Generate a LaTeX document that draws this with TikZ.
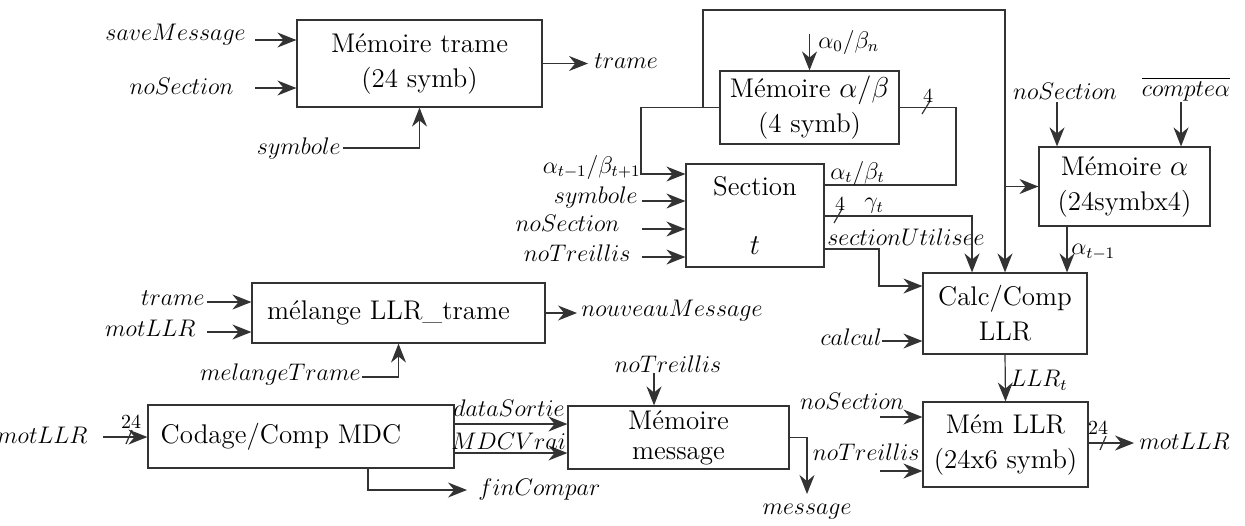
\documentclass[tikz,border=0pt]{standalone}
\usepackage{amsmath,amssymb}
\usepackage{tikz}
\usetikzlibrary{arrows.meta,positioning}

\begin{document}
\begin{tikzpicture}[
  x=0.5pt, y=-0.5pt,
  block/.style={draw=black!80, line width=0.6pt, align=center, inner sep=2pt,
                font=\fontsize{13.5}{17.5}\selectfont},
  lbl/.style={font=\fontsize{11.5}{13}\selectfont, inner sep=1pt},
  busnum/.style={font=\fontsize{10}{11}\selectfont, inner sep=0pt},
  wire/.style={draw=black!80, line width=0.6pt},
  arrow/.style={wire, -{Stealth[length=9.5pt,width=7.5pt]}}
]
\useasboundingbox (0,0) rectangle (1245,525);

% Blocks
\node[block, minimum width=122.5pt, minimum height=43.5pt] (memtrame) at (419.5,63.5) {M\'emoire trame\\(24 symb)};
\node[block, minimum width=89.5pt, minimum height=36.5pt] (memab) at (809.5,107.5) {M\'emoire $\alpha/\beta$\\(4 symb)};
\node[block, minimum width=69pt, minimum height=51.5pt] (section) at (755,215.5) {Section\\[12pt]$t$};
\node[block, minimum width=85.5pt, minimum height=39.5pt] (memalpha) at (1124.5,186.5) {M\'emoire $\alpha$\\(24symbx4)};
\node[block, minimum width=82pt, minimum height=40.5pt] (calc) at (1005,313.5) {Calc/Comp\\LLR};
\node[block, minimum width=82.5pt, minimum height=42.5pt] (memllr) at (1005.5,444.5) {M\'em LLR\\(24x6 symb)};
\node[block, minimum width=146.5pt, minimum height=30pt] (melange) at (398.5,313) {m\'elange LLR\_trame\hspace{10pt}};
\node[block, minimum width=153pt, minimum height=31.5pt] (codage) at (301,436.5) {Codage/Comp MDC\hspace{20pt}};
\node[block, minimum width=110.5pt, minimum height=31.5pt, font=\fontsize{13.5}{15}\selectfont] (memmsg) at (678.5,437.5) {M\'emoire\\message};

% Memoire trame
\coordinate (saveIn) at (255,40);
\coordinate (nsecT) at (255,88);
\coordinate (symT) at (343,148);
\coordinate (trameOut) at (588,63.5);
\node[lbl, anchor=east] (saveLbl) at (248,35) {$saveMessage$};
\node[lbl, anchor=east] (nsecTLbl) at (236,86) {$noSection$};
\node[lbl, anchor=east] (symTLbl) at (symT) {$symbole$};
\node[lbl, anchor=west] (trameLbl) at (592,61) {$trame$};
\draw[arrow] (saveIn) -- (saveIn -| memtrame.west);
\draw[arrow] (nsecT) -- (nsecT -| memtrame.west);
\draw[arrow] (symT) -| (memtrame.south);
\draw[arrow] (memtrame.east) -- (trameOut);

% Memoire alpha/beta and its loops
\coordinate (a0In) at (809.5,34);
\coordinate (fbL) at (641,107.5);
\coordinate (tap) at (703,107.5);
\coordinate (topR) at (1005,10);
\coordinate (br) at (1005,186.5);
\node[lbl, anchor=west] (a0Lbl) at (816,42) {$\alpha_0/\beta_n$};
\draw[arrow] (a0In) -- (memab.north);
\draw[arrow] (memab.west) -- (fbL) |- (section.west |- 0,174);
\draw[arrow] (tap) |- (topR) -- (calc.north);
\draw[arrow] (br) -- (memalpha.west);
\draw[wire] (section.east |- 0,185) -| (956,107.5) -- (memab.east);
\draw[wire] (922,114) -- (930,101);
\node[busnum] (busab) at (928,96) {4};

% Section t
\coordinate (symS) at (642,201);
\coordinate (nsecS) at (642,229);
\coordinate (ntrS) at (642,257);
\node[lbl, anchor=east] (fbLbl) at (643,167) {$\alpha_{t-1}/\beta_{t+1}$};
\node[lbl, anchor=east] (symSLbl) at (640,197) {$symbole$};
\node[lbl, anchor=east] (nsecSLbl) at (622,223) {$noSection$};
\node[lbl, anchor=east] (ntrSLbl) at (633,253) {$noTreillis$};
\draw[arrow] (symS) -- (symS -| section.west);
\draw[arrow] (nsecS) -- (nsecS -| section.west);
\draw[arrow] (ntrS) -- (ntrS -| section.west);
\node[lbl, anchor=west] (atLbl) at (828,173) {$\alpha_t/\beta_t$};
\node[lbl, anchor=west] (gtLbl) at (862,206) {$\gamma_t$};
\node[lbl, anchor=west] (suLbl) at (825,237) {$sectionUtilisee$};
\draw[arrow] (section.east |- 0,216) -| (calc.north -| 972,0);
\draw[wire] (834,223) -- (842,209);
\node[busnum] (busg) at (840,204) {4};
\draw[arrow] (section.east |- 0,249) -| (879,286) -- (calc.west |- 0,286);

% Memoire alpha
\coordinate (nsecA) at (1057,102);
\coordinate (cptA) at (1181,102);
\node[lbl] (nsecALbl) at (1065,91) {$noSection$};
\node[lbl] (cptALbl) at (1186,89) {$\overline{compte\alpha}$};
\draw[arrow] (nsecA) -- (memalpha.north -| nsecA);
\draw[arrow] (cptA) -- (memalpha.north -| cptA);
\draw[arrow] (memalpha.south -| 1067,0) -- (calc.north -| 1067,0);
\node[lbl, anchor=west] (amLbl) at (1069,252) {$\alpha_{t-1}$};

% Calc/Comp LLR and Mem LLR
\coordinate (calcIn) at (882,341);
\node[lbl, anchor=east] (calcLbl) at (884,337) {$calcul$};
\draw[arrow] (calcIn) -- (calcIn -| calc.west);
\draw[arrow] (calc.south) -- (memllr.north);
\node[lbl, anchor=west] (llrLbl) at (1008,380) {$LLR_t$};
\coordinate (nsecL) at (880,417);
\coordinate (ntrL) at (880,471);
\coordinate (llrOut) at (1134,443);
\node[lbl] (nsecLLbl) at (852,401) {$noSection$};
\node[lbl, anchor=east] (ntrLLbl) at (922,452) {$noTreillis$};
\draw[arrow] (nsecL) -- (nsecL -| memllr.west);
\draw[arrow] (ntrL) -- (ntrL -| memllr.west);
\draw[arrow] (memllr.east |- llrOut) -- (llrOut);
\draw[wire] (1100,450) -- (1106,436);
\node[busnum] (busl) at (1098,428) {24};
\node[lbl, anchor=west] (mlOutLbl) at (1137,441) {$motLLR$};

% melange LLR_trame
\coordinate (trIn) at (207,302);
\coordinate (mlIn) at (207,332);
\coordinate (mtIn) at (362,377);
\coordinate (nmOut) at (577,313);
\node[lbl, anchor=east] (trLbl) at (207,298) {$trame$};
\node[lbl, anchor=east] (mlLbl) at (198,328) {$motLLR$};
\node[lbl, anchor=east] (mtLbl) at (363,374) {$melangeTrame$};
\node[lbl, anchor=west] (nmLbl) at (579,311) {$nouveauMessage$};
\draw[arrow] (trIn) -- (trIn -| melange.west);
\draw[arrow] (mlIn) -- (mlIn -| melange.west);
\draw[arrow] (mtIn) -| (melange.south);
\draw[arrow] (melange.east) -- (nmOut);

% Codage/Comp MDC and Memoire message
\coordinate (codIn) at (103,437);
\coordinate (finOut) at (467,490);
\coordinate (ntrM) at (654,373);
\coordinate (msgOut) at (807,494);
\node[lbl, anchor=east] (codLbl) at (90,435) {$motLLR$};
\draw[arrow] (codIn) -- (codIn -| codage.west);
\draw[wire] (126,444) -- (132,430);
\node[busnum] (busc) at (131,422) {24};
\draw[arrow] (codage.east |- 0,424) -- (memmsg.west |- 0,424);
\draw[arrow] (codage.east |- 0,453) -- (memmsg.west |- 0,453);
\node[lbl, anchor=west] (dsLbl) at (451,408) {$dataSortie$};
\node[lbl, anchor=west] (mdcLbl) at (449,441) {$MDCVrai$};
\draw[arrow] (codage.south -| 368,0) |- (finOut);
\node[lbl, anchor=west] (finLbl) at (476,489) {$finCompar$};
\node[lbl] (ntrMLbl) at (668,364) {$noTreillis$};
\draw[arrow] (ntrM) -- (memmsg.north -| ntrM);
\draw[arrow] (memmsg.east) -| (msgOut);
\node[lbl] (msgLbl) at (807,512) {$message$};

\end{tikzpicture}
\end{document}
